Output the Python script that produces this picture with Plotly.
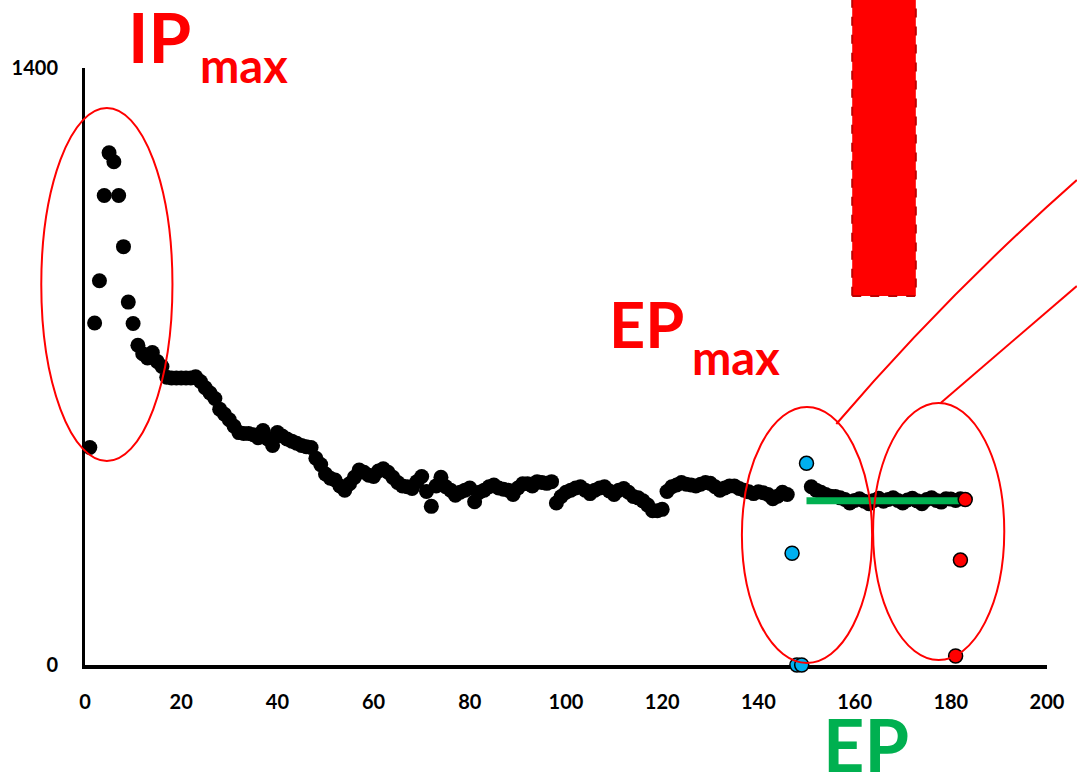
import plotly.graph_objects as go

# ---------------- data ----------------
black_x = list(range(1, 147)) + list(range(151, 183))
black_y = [
    510, 802, 901, 1101, 1201, 1180, 1101, 981, 851, 801,
    750, 730, 720, 733, 712, 700, 675, 673, 673, 673,
    673, 673, 676, 665, 650, 638, 625, 600, 588, 575,
    560, 545, 543, 543, 540, 533, 550, 530, 515, 545,
    537, 530, 525, 520, 515, 512, 510, 485, 470, 448,
    438, 434, 420, 410, 425, 440, 457, 452, 445, 442,
    455, 460, 452, 440, 428, 420, 418, 414, 430, 442,
    407, 372, 420, 440, 418, 410, 398, 405, 410, 415,
    383, 405, 410, 418, 422, 415, 412, 410, 400, 415,
    425, 425, 420, 430, 428, 426, 430, 380, 395, 405,
    410, 415, 418, 410, 402, 410, 415, 418, 408, 400,
    410, 414, 405, 395, 392, 385, 375, 362, 362, 365,
    407, 418, 422, 428, 424, 422, 420, 424, 428, 426,
    418, 410, 415, 420, 420, 414, 410, 406, 402, 406,
    404, 400, 390, 396, 405, 400,
    418, 410, 405, 400, 396, 395, 392, 388, 380, 386,
    390, 384, 378, 386, 391, 384, 388, 392, 386, 380,
    387, 391, 385, 378, 388, 392, 386, 382, 390, 389,
    386, 390,
]
blue_x = [147, 148, 149, 150]
blue_y = [262, 0, 0, 473]
red_x = [181, 182, 183]
red_y = [21, 246, 388]
ep_line_x = [150, 182]
ep_line_y = [385, 385]

x_ticks = [0, 20, 40, 60, 80, 100, 120, 140, 160, 180, 200]
y_ticks = [0, 1400]

# ---------------- figure ----------------
W, H = 1077, 778
L, R, T, B = 82, 27, 68, 113
pw, ph = W - L - R, H - T - B


def px(xp):
    return (xp - L) / pw


def py(yp):
    return (H - B - yp) / ph


fig = go.Figure()

fig.add_trace(go.Scatter(
    x=black_x, y=black_y, mode="markers", cliponaxis=False,
    marker=dict(color="black", size=15), showlegend=False, hoverinfo="skip"))

fig.add_trace(go.Scatter(
    x=ep_line_x, y=ep_line_y, mode="lines", cliponaxis=False,
    line=dict(color="#00B050", width=7), showlegend=False, hoverinfo="skip"))

fig.add_trace(go.Scatter(
    x=blue_x, y=blue_y, mode="markers", cliponaxis=False,
    marker=dict(color="#00B0F0", size=14, line=dict(color="black", width=1.5)),
    showlegend=False, hoverinfo="skip"))

fig.add_trace(go.Scatter(
    x=red_x, y=red_y, mode="markers", cliponaxis=False,
    marker=dict(color="#FF0000", size=14, line=dict(color="black", width=1.5)),
    showlegend=False, hoverinfo="skip"))

red = "#FF0000"
shapes = [
    # ellipses
    dict(type="circle", xref="paper", yref="paper",
         x0=px(38), x1=px(170), y0=py(461), y1=py(108),
         line=dict(color=red, width=2)),
    dict(type="circle", xref="paper", yref="paper",
         x0=px(743), x1=px(874), y0=py(663), y1=py(407),
         line=dict(color=red, width=2)),
    dict(type="circle", xref="paper", yref="paper",
         x0=px(875), x1=px(1007), y0=py(660), y1=py(403),
         line=dict(color=red, width=2)),
    # red rectangle
    dict(type="rect", xref="paper", yref="paper",
         x0=px(854), x1=px(918), y0=py(296), y1=py(-5),
         fillcolor=red, line=dict(color="#C00000", width=2, dash="dash")),
    # connector lines
    dict(type="path", xref="paper", yref="paper",
         path=f"M {px(838)} {py(424)} Q {px(949)} {py(295)} {px(1080)} {py(180)}",
         line=dict(color=red, width=2)),
    dict(type="line", xref="paper", yref="paper",
         x0=px(943), y0=py(403), x1=px(1080), y1=py(286),
         line=dict(color=red, width=2)),
]

ann_font = "Lato"
annotations = [
    dict(text="IP", x=px(157), y=py(37), font=dict(family=ann_font, size=69, color=red, weight="bold")),
    dict(text="max", x=px(242), y=py(65), font=dict(family=ann_font, size=47, color=red, weight="bold")),
    dict(text="EP", x=px(647), y=py(323), font=dict(family=ann_font, size=63, color=red, weight="bold")),
    dict(text="max", x=px(737), y=py(357), font=dict(family=ann_font, size=47, color=red, weight="bold")),
    dict(text="EP", x=px(868), y=py(744), font=dict(family=ann_font, size=72, color="#00B050", weight="bold")),
]
for a in annotations:
    a.update(xref="paper", yref="paper", showarrow=False, xanchor="center", yanchor="middle")

fig.update_layout(
    width=W, height=H,
    margin=dict(l=L, r=R, t=T, b=B, pad=0),
    paper_bgcolor="white", plot_bgcolor="white",
    shapes=shapes, annotations=annotations,
    xaxis=dict(range=[0, 200], tickvals=x_ticks, showgrid=False, zeroline=False,
               showline=True, linecolor="black", linewidth=4, ticks="",
               ticklabelstandoff=16, layer="below traces",
               tickfont=dict(family=ann_font, size=20, color="black", weight="bold")),
    yaxis=dict(range=[0, 1400], tickvals=y_ticks, showgrid=False, zeroline=False,
               showline=True, linecolor="black", linewidth=3, ticks="",
               ticklabelstandoff=20, layer="below traces",
               tickfont=dict(family=ann_font, size=20, color="black", weight="bold")),
)

fig.write_html(
    "out.html",
    config={"displayModeBar": False},
    post_script="document.body.style.margin='0';document.body.style.overflow='hidden';",
)
